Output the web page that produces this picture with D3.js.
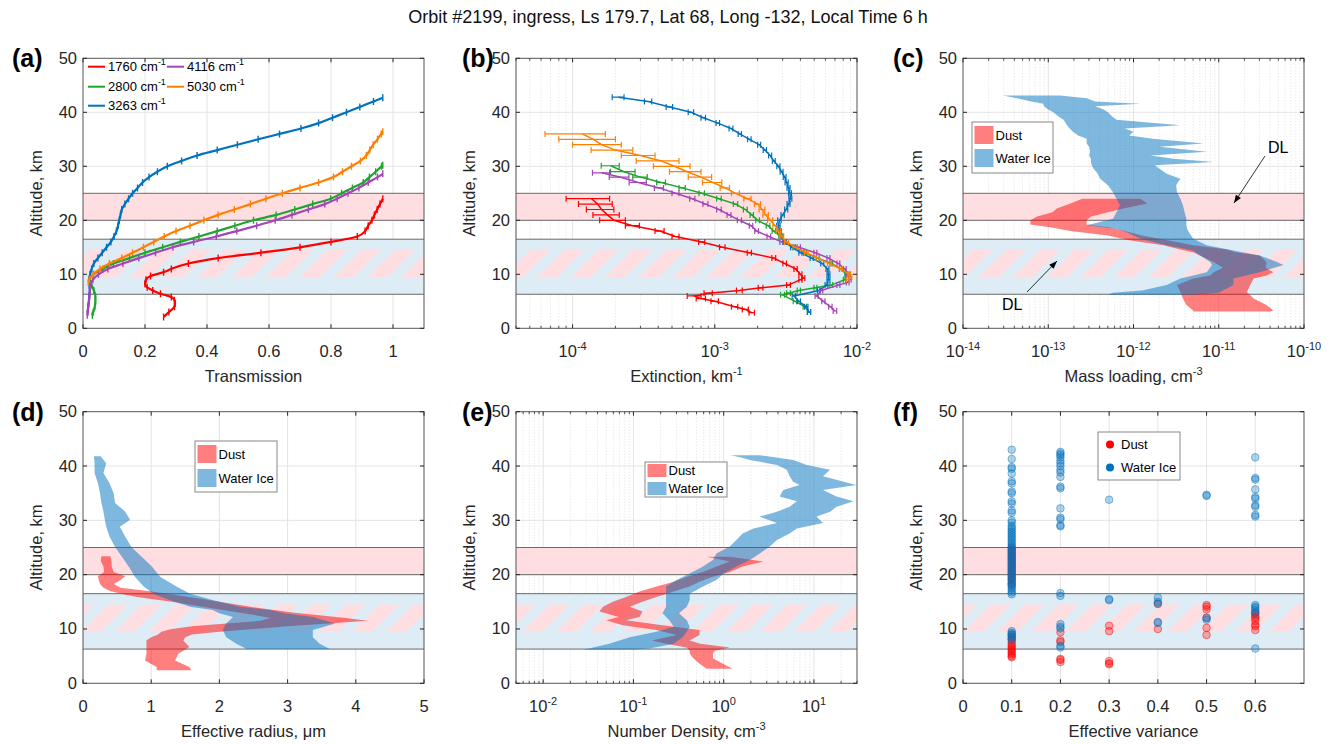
<!DOCTYPE html>
<html><head><meta charset="utf-8">
<script src="https://cdn.jsdelivr.net/npm/d3@7"></script>
<style>
body{margin:0;background:#fff;}
svg{font-family:"Liberation Sans",Arial,Helvetica,sans-serif;}
</style></head><body>
<svg id="chart" width="1335" height="744"></svg>
<script>
// ---------------- DATA ----------------
const title = "Orbit #2199, ingress, Ls 179.7, Lat 68, Long -132, Local Time 6 h";
const altTicks = [0,10,20,30,40,50];
const dustLayer = [20,25];
const iceLayer = [6.3,16.5];
const hatchLayer = [9.5,14.5];

// (a) Transmission
const a1760Alt = [2.1,3,4,4.6,5.2,5.8,6.4,7,7.6,8.2,9,9.7,10.4,11,12,13,14,15,16,17,18,19,20,21,22,23,24];
const a1760Tr  = [0.26,0.277,0.295,0.297,0.295,0.285,0.25,0.225,0.207,0.2,0.203,0.218,0.26,0.285,0.34,0.436,0.574,0.70,0.80,0.885,0.91,0.92,0.932,0.94,0.949,0.958,0.967];
const a2800Alt = [2.4,3,4,5,6,7,8,9,10,11,12,13,14,15,16,17,18,19,20,21,22,23,24,25,26,27,28,29,30,30.2];
const a2800Tr  = [0.03,0.033,0.038,0.04,0.04,0.035,0.028,0.022,0.034,0.064,0.098,0.15,0.2,0.257,0.314,0.374,0.433,0.49,0.55,0.623,0.683,0.741,0.799,0.834,0.869,0.904,0.924,0.944,0.963,0.967];
const a3263Alt = [3,4,5,6,7,8,9,10,11,12,13,14,15,16,17,18,19,20,21,22,23,24,25,26,27,28,29,30,31,32,33,34,35,36,37,38,39,40,41,42,42.7];
const a3263Tr  = [0.015,0.017,0.019,0.02,0.022,0.021,0.02,0.023,0.028,0.035,0.048,0.062,0.076,0.09,0.1,0.108,0.113,0.117,0.121,0.125,0.135,0.147,0.16,0.176,0.192,0.213,0.24,0.272,0.318,0.368,0.433,0.498,0.565,0.634,0.703,0.76,0.805,0.85,0.893,0.937,0.967];
const a4116Alt = [2.4,3,4,5,6,7,8,9,10,11,12,13,14,15,16,17,18,19,20,21,22,23,24,25,26,27,28,28.6];
const a4116Tr  = [0.014,0.015,0.017,0.019,0.021,0.022,0.023,0.032,0.05,0.08,0.129,0.18,0.234,0.29,0.357,0.43,0.496,0.56,0.62,0.674,0.727,0.78,0.82,0.855,0.89,0.92,0.95,0.967];
const a5030Alt = [8.5,9,10,11,12,13,14,15,16,17,18,19,20,21,22,23,24,25,26,27,28,29,30,31,32,33,34,35,36,36.4];
const a5030Tr  = [0.017,0.02,0.033,0.055,0.085,0.125,0.16,0.195,0.228,0.262,0.3,0.345,0.39,0.436,0.488,0.54,0.59,0.643,0.70,0.76,0.808,0.837,0.866,0.895,0.914,0.925,0.936,0.95,0.962,0.967];
const transTicks = [0,0.2,0.4,0.6,0.8,1];

// (b) Extinction, km^-1
const b1760Alt = [2.9,3.5,4,5,5.5,6,6.5,7,7.5,8,9,9.3,10,11,12,13,14,15,16,17,18,19,20,21,22,23,24];
const b1760Ext = [1.82e-3,1.64e-3,1.38e-3,1.0e-3,8.0e-4,7.2e-4,9e-4,1.49e-3,2.1e-3,3.3e-3,4.0e-3,4.2e-3,4.0e-3,3.7e-3,3.1e-3,2.6e-3,1.75e-3,1.13e-3,8.1e-4,5.3e-4,4.1e-4,2.65e-4,1.95e-4,1.76e-4,1.6e-4,1.5e-4,1.36e-4];
const b1760Err = [8e-5,8e-5,7e-5,6e-5,6e-5,8e-5,6e-5,7e-5,8e-5,1e-4,1e-4,1e-4,1e-4,1e-4,9e-5,8e-5,6e-5,5e-5,4e-5,3e-5,3e-5,3e-5,4e-5,3.7e-5,3.5e-5,4e-5,4.6e-5];
const b2800Alt = [3,4,5,6.2,6.5,7,7.5,8,9,10,11,12,13,14,15,16,17,18,19,20,21,22,23,24,25,26,27,28,29,30.1];
const b2800Ext = [4.6e-3,4.3e-3,3.66e-3,3.0e-3,3.3e-3,3.9e-3,5.1e-3,6.6e-3,8.2e-3,8.4e-3,7.7e-3,6.6e-3,5.3e-3,4.3e-3,3.6e-3,3.1e-3,2.9e-3,2.6e-3,2.37e-3,2.0e-3,1.82e-3,1.64e-3,1.4e-3,1.07e-3,8.1e-4,5.9e-4,4.2e-4,3e-4,2.3e-4,1.86e-4];
const b2800Err = [1.2e-4,1.2e-4,1e-4,1e-4,1e-4,1e-4,1.2e-4,1.5e-4,1.8e-4,1.8e-4,1.6e-4,1.4e-4,1.2e-4,1e-4,9e-5,8e-5,8e-5,7e-5,7e-5,6e-5,5e-5,5e-5,5e-5,4e-5,3.5e-5,3e-5,3e-5,3.5e-5,4.5e-5,2.7e-5];
const b3263Alt = [3,4,5,6,7,8,9,10,11,12,13,14,15,16,17,18,19,20,21,22,23,24,25,26,27,28,29,30,31,32,33,34,35,36,37,38,39,40,41,42,42.8];
const b3263Ext = [4.6e-3,4.4e-3,3.9e-3,3.6e-3,5.4e-3,6.1e-3,6.3e-3,6.3e-3,6.2e-3,5.7e-3,4.8e-3,4.0e-3,3.5e-3,3.1e-3,2.95e-3,2.85e-3,2.8e-3,2.85e-3,3.0e-3,3.18e-3,3.3e-3,3.4e-3,3.38e-3,3.3e-3,3.2e-3,3.1e-3,2.95e-3,2.8e-3,2.6e-3,2.45e-3,2.25e-3,2.05e-3,1.75e-3,1.5e-3,1.3e-3,1.05e-3,8.3e-4,6.8e-4,4.8e-4,3.4e-4,2.1e-4];
const b3263Err = [1.2e-4,1.2e-4,1e-4,1e-4,1.3e-4,1.4e-4,1.5e-4,1.5e-4,1.5e-4,1.4e-4,1.2e-4,1e-4,9e-5,8e-5,8e-5,8e-5,8e-5,8e-5,8e-5,8e-5,8e-5,8e-5,8e-5,8e-5,8e-5,7e-5,7e-5,7e-5,6e-5,6e-5,6e-5,5e-5,5e-5,4e-5,4e-5,3e-5,3e-5,3e-5,2.5e-5,2e-5,2e-5];
const b4116Alt = [3.2,4,5,6,7,8,8.5,9,10,11,12,13,14,15,16,17,18,19,20,21,22,23,24,25,26,27,28,28.8];
const b4116Ext = [7.0e-3,6.5e-3,5.8e-3,5.2e-3,5.6e-3,7.4e-3,8.6e-3,8.9e-3,8.6e-3,8.2e-3,7.4e-3,6.3e-3,5.1e-3,3.9e-3,2.95e-3,2.4e-3,1.97e-3,1.8e-3,1.49e-3,1.26e-3,1.07e-3,8.6e-4,6.95e-4,5.3e-4,4.06e-4,2.9e-4,2.15e-4,1.6e-4];
const b4116Err = [2e-4,1.8e-4,1.5e-4,1.3e-4,1.4e-4,1.8e-4,2e-4,2e-4,2e-4,1.9e-4,1.7e-4,1.5e-4,1.2e-4,1e-4,8e-5,7e-5,6e-5,5e-5,5e-5,4e-5,4e-5,3.5e-5,3e-5,3e-5,3e-5,4e-5,3.4e-5,2.2e-5];
const b5030Alt = [9,9.5,10,11,12,13,14,15,16,17,18,19,20,21,22,23,24,25,26,27,28,29,30,31,32,33,34,35,36];
const b5030Ext = [8.6e-3,9.0e-3,8.8e-3,7.7e-3,6.4e-3,5.3e-3,4.4e-3,3.68e-3,3.2e-3,2.95e-3,2.8e-3,2.66e-3,2.45e-3,2.28e-3,2.15e-3,2.0e-3,1.7e-3,1.4e-3,1.18e-3,9.7e-4,8e-4,6.4e-4,5.2e-4,4.2e-4,3e-4,2e-4,1.6e-4,1.4e-4,1.17e-4];
const b5030Err = [2e-4,2e-4,2e-4,2e-4,2e-4,1.5e-4,1.3e-4,1.2e-4,1e-4,1e-4,1e-4,1e-4,1e-4,1e-4,1e-4,1e-4,1e-4,9e-5,9e-5,1.5e-4,1.5e-4,1.6e-4,1.5e-4,1.4e-4,8e-5,6.5e-5,6e-5,6e-5,5.3e-5];
const extTicks = [1e-4,1e-3,1e-2];

// (c) Mass loading, cm^-3 : [altitude, lower, upper]
const cDustAlt = [24.0,23.1,22.2,21.5,20.7,20.0,19.2,18.7,18.0,17.2,16.3,15.4,14.6,14.1,13.5,12.3,11.2,10.4,9.8,9.2,8.0,6.7,5.5,4.3,3.3,3.1];
const cDustLo  = [2.51e-13,1.82e-13,1.26e-13,1.12e-13,7.41e-14,6.17e-14,6.17e-14,1.05e-13,1.82e-13,5.01e-13,8.91e-13,2.24e-12,3.55e-12,5.01e-12,6.03e-12,8.71e-12,1.12e-11,8.71e-12,7.94e-12,5.01e-12,3.24e-12,3.55e-12,3.8e-12,4.17e-12,5.01e-12,5.01e-12];
const cDustHi  = [1.2e-12,1.45e-12,7.59e-13,5.01e-13,3.16e-13,2.82e-13,2.82e-13,5.01e-13,7.94e-13,1.26e-12,2.51e-12,5.01e-12,1.26e-11,1.58e-11,3.02e-11,3.63e-11,3.55e-11,4.37e-11,3.63e-11,2.57e-11,2.34e-11,2.14e-11,2.57e-11,3.63e-11,4.37e-11,3.98e-11];
const cIceAlt = [43.1,42.6,42.0,41.6,41.1,40.5,40.0,39.2,38.6,37.6,37.0,36.4,35.7,35.1,34.2,33.6,32.7,32.0,31.4,30.8,30.2,29.6,28.6,27.7,26.5,25.2,24.0,22.8,21.5,20.3,19.1,18.4,17.8,16.6,15.4,14.4,13.5,12.3,11.7,10.4,9.2,8.0,7.0,6.6,6.2];
const cIceLo  = [2.95e-14,4.27e-14,6.31e-14,8.71e-14,8.91e-14,1.0e-13,1.15e-13,1.32e-13,1.51e-13,1.66e-13,1.78e-13,1.95e-13,2.24e-13,2.82e-13,2.82e-13,3.02e-13,3.09e-13,3.02e-13,3.16e-13,3.16e-13,3.24e-13,3.39e-13,3.8e-13,4.07e-13,5.01e-13,5.75e-13,6.31e-13,6.92e-13,6.31e-13,5.75e-13,2.82e-13,6.31e-13,8.32e-13,1.2e-12,2.45e-12,5.01e-12,6.03e-12,7.94e-12,8.32e-12,7.24e-12,3.55e-12,2.45e-12,1.26e-12,5.75e-13,5.01e-13];
const cIceHi  = [1.38e-13,2.82e-13,3.55e-13,1.2e-12,3.55e-13,4.47e-13,5.01e-13,5.62e-13,6.31e-13,3.55e-12,7.94e-13,1.0e-12,8.91e-13,1.7e-12,6.61e-12,2.0e-12,7.24e-12,1.58e-12,2.95e-12,8.71e-12,1.78e-12,2.0e-12,2.45e-12,3.55e-12,3.16e-12,3.24e-12,3.55e-12,3.8e-12,3.98e-12,4.17e-12,4.17e-12,4.27e-12,4.47e-12,5.01e-12,7.24e-12,1.48e-11,3.02e-11,4.79e-11,5.75e-11,3.02e-11,1.48e-11,1.48e-11,1.12e-11,1.0e-11,5.01e-12];
const massTicks = [1e-14,1e-13,1e-12,1e-11,1e-10];

// (d) Effective radius, um
const dDustAlt = [23.4,22.5,21.5,20.5,19.7,19.0,18.3,17.6,17.0,16.5,16.0,15.5,15.0,14.5,14.0,13.5,13.0,12.5,12.0,11.5,11.0,10.5,10.0,9.5,9.0,8.5,7.9,6.7,5.5,4.2,3.0,2.4];
const dDustLo  = [0.27,0.26,0.30,0.31,0.22,0.23,0.25,0.30,0.40,0.55,0.75,1.0,1.3,1.55,1.8,2.05,2.3,2.55,2.75,2.6,2.1,1.6,1.3,1.15,1.1,1.0,0.93,0.93,0.93,0.91,1.08,1.08];
const dDustHi  = [0.40,0.42,0.42,0.45,0.62,0.55,0.45,0.55,0.95,1.25,1.5,1.75,2.0,2.25,2.5,2.8,3.1,3.5,3.85,4.17,3.6,3.0,2.5,2.0,1.6,1.5,1.47,1.56,1.40,1.35,1.56,1.59];
const dIceAlt = [41.8,40.5,38.7,36.8,35.0,33.2,31.6,30.1,28.8,27.0,25.1,23.3,21.5,19.6,17.8,16.5,15.3,14.1,13.5,12.9,12.2,11.0,9.8,8.5,7.3,6.3];
const dIceLo  = [0.16,0.17,0.17,0.22,0.25,0.27,0.30,0.32,0.34,0.39,0.47,0.57,0.67,0.76,0.89,1.03,1.28,1.57,1.9,2.0,2.2,2.1,2.05,2.1,2.25,2.4];
const dIceHi  = [0.26,0.34,0.30,0.39,0.45,0.47,0.62,0.69,0.54,0.62,0.71,0.86,1.01,1.13,1.37,1.57,1.91,2.3,2.75,2.95,3.37,3.7,3.37,3.37,3.47,3.62];
const radiusTicks = [0,1,2,3,4,5];

// (e) Number density, cm^-3
const eDustAlt = [23.3,22.4,21.5,20.5,19.6,18.7,17.8,16.9,15.9,15.0,14.1,13.2,12.2,11.6,10.7,9.8,8.9,7.9,7.3,6.6,6.0,5.5,4.6,3.6,2.7];
const eDustLo  = [0.65,1.17,0.83,0.59,0.39,0.28,0.18,0.117,0.083,0.059,0.046,0.042,0.069,0.050,0.076,0.18,0.30,0.16,0.23,0.39,0.42,0.42,0.46,0.54,0.65];
const eDustHi  = [1.17,2.75,1.62,1.17,0.76,0.54,0.42,0.28,0.18,0.126,0.091,0.126,0.117,0.083,0.21,0.54,0.54,0.42,0.55,1.17,0.8,0.76,0.76,0.98,1.26];
const eIceAlt = [42.0,41.5,41.1,40.2,39.3,38.1,37.1,36.5,35.6,34.4,33.5,32.5,31.6,30.7,29.5,28.5,27.6,26.4,25.2,23.9,22.7,21.5,20.2,19.0,17.8,16.5,15.3,14.1,12.9,11.6,10.4,9.5,8.5,7.3,6.4,6.2];
const eIceLo  = [1.2,1.6,1.95,3.89,5.01,5.37,5.89,6.92,4.57,4.17,6.46,5.37,3.89,2.51,3.89,2.14,1.62,1.38,1.17,0.83,0.76,0.59,0.42,0.30,0.23,0.23,0.23,0.23,0.21,0.25,0.28,0.18,0.091,0.054,0.032,0.028];
const eIceHi  = [2.5,4.0,5.89,8.32,15.1,12.6,21.4,29.5,12.6,17.8,27.5,17.8,15.1,10.7,12.6,6.46,5.37,3.89,3.24,2.51,1.95,1.38,1.0,0.83,0.59,0.42,0.42,0.39,0.32,0.39,0.42,0.39,0.35,0.28,0.15,0.1];
const densTicks = [1e-2,1e-1,1e0,1e1];

// (f) Effective variance
const varClasses = [0.1,0.2,0.3,0.4,0.5,0.6];
const fDustAlts = [
  [25.0,24.6,24.2,23.8,23.4,23.0,22.6,22.2,21.8,21.4,21.0,20.6,20.2,19.8,19.4,19.0,18.4,18.1,9.0,8.5,8.0,7.5,7.1,6.8,6.5,6.2,5.9,5.6,5.3,5.0,4.8],
  [9.4,7.9,7.6,4.5,4.3,3.9],
  [10.6,9.6,4.1,3.7,3.5],
  [14.6,10.0],
  [14.4,14.1,13.6,12.1,10.2,8.9],
  [13.0,12.7,12.3,12.0,11.5,10.8,10.5,9.8]
];
const fIceAlts = [
  [43.0,41.3,39.8,39.5,38.6,37.2,36.8,35.3,35.0,33.5,33.1,31.8,31.4,30.0,29.6,29.0,28.65,28.3,27.95,27.6,27.25,26.9,26.55,26.2,25.85,25.5,25.15,24.8,24.45,24.1,23.75,23.4,23.05,22.7,22.35,22.0,21.65,21.3,20.95,20.6,20.25,19.9,19.55,19.2,18.85,18.5,18.15,17.8,17.45,17.1,16.75,16.4,9.6,9.3,9.0,8.7,8.3,8.0],
  [42.6,42.3,42.0,41.6,41.0,40.5,40.0,39.3,38.8,38.0,36.2,35.9,32.2,30.5,30.2,29.1,28.9,16.6,16.1,10.9,10.4,10.1,6.9,6.6],
  [33.8,15.5,15.3],
  [15.8,15.0,14.7,11.3,11.1],
  [34.7,34.5,12.0,11.7],
  [41.6,37.8,37.5,35.7,34.3,34.0,32.8,32.5,31.0,30.7,14.4,14.1,13.8,13.4,13.0,6.4]
];
const varTicks = [0,0.1,0.2,0.3,0.4,0.5,0.6];

// ---------------- STYLE ----------------
const colA = {"1760":"#ff0000","2800":"#1fa52e","3263":"#0072bd","4116":"#a446b8","5030":"#ff8000"};
const DUST = "#ff0000", ICE = "#0072bd";
const DUST_BAND = "rgb(255,222,226)", ICE_BAND = "rgb(222,236,246)";
const TXT = "#262626";
const FS = 16.5;

const cols = [[83,424],[516,857],[963,1304]];
const rows = [[58.3,328.3],[411.7,683.3]];
const svg = d3.select('#chart');
const defs = svg.append('defs');

svg.append('rect').attr('width',1335).attr('height',744).attr('fill','#fff');
svg.append('text').attr('x',668).attr('y',23).attr('text-anchor','middle')
  .attr('font-size',18).attr('fill','#111').text(title);

const pat = defs.append('pattern').attr('id','hatch').attr('patternUnits','userSpaceOnUse')
  .attr('width',24).attr('height',24).attr('patternTransform','rotate(45)');
pat.append('rect').attr('width',24).attr('height',24).attr('fill',ICE_BAND);
pat.append('rect').attr('width',14).attr('height',24).attr('fill',DUST_BAND);

function richText(sel, parts){
  parts.forEach(p=>{
    if (typeof p === 'string') sel.append('tspan').text(p);
    else sel.append('tspan').attr('dy',p.dy).attr('font-size',p.size).text(p.t);
  });
}

function makePanel(o){
  const [x0,x1]=cols[o.col], [yt,yb]=rows[o.row];
  const x=(o.log?d3.scaleLog():d3.scaleLinear()).domain(o.domain).range([x0,x1]);
  const y=d3.scaleLinear().domain([0,50]).range([yb,yt]);
  const cid='clip-'+o.id;
  defs.append('clipPath').attr('id',cid).append('rect')
    .attr('x',x0).attr('y',yt).attr('width',x1-x0).attr('height',yb-yt);
  const gGrid=svg.append('g'), gBand=svg.append('g').attr('clip-path',`url(#${cid})`);
  const gData=svg.append('g').attr('clip-path',`url(#${cid})`);
  const gFrame=svg.append('g');
  let majors=o.ticks, minors=[];
  if(o.log){
    minors=x.ticks().filter(v=>Math.abs(Math.log10(v)-Math.round(Math.log10(v)))>1e-6);
  }
  gGrid.selectAll('line.mn').data(minors).join('line').attr('class','mn')
    .attr('x1',d=>x(d)).attr('x2',d=>x(d)).attr('y1',yt).attr('y2',yb)
    .attr('stroke','#d9d9d9').attr('stroke-width',0.8).attr('stroke-dasharray','1,2');
  gGrid.selectAll('line.mj').data(majors.filter(v=>x(v)>x0+0.5&&x(v)<x1-0.5)).join('line').attr('class','mj')
    .attr('x1',d=>x(d)).attr('x2',d=>x(d)).attr('y1',yt).attr('y2',yb)
    .attr('stroke','#e4e4e4').attr('stroke-width',1);
  gGrid.selectAll('line.hy').data(altTicks.slice(1,-1)).join('line').attr('class','hy')
    .attr('x1',x0).attr('x2',x1).attr('y1',d=>y(d)).attr('y2',d=>y(d))
    .attr('stroke','#e4e4e4').attr('stroke-width',1);
  gBand.append('rect').attr('x',x0).attr('width',x1-x0).attr('y',y(dustLayer[1])).attr('height',y(dustLayer[0])-y(dustLayer[1])).attr('fill',DUST_BAND);
  gBand.append('rect').attr('x',x0).attr('width',x1-x0).attr('y',y(iceLayer[1])).attr('height',y(iceLayer[0])-y(iceLayer[1])).attr('fill',ICE_BAND);
  gBand.append('rect').attr('x',x0).attr('width',x1-x0).attr('y',y(hatchLayer[1])).attr('height',y(hatchLayer[0])-y(hatchLayer[1])).attr('fill','url(#hatch)');
  gBand.selectAll('line.bl').data([dustLayer[1],dustLayer[0],iceLayer[1],iceLayer[0]]).join('line').attr('class','bl')
    .attr('x1',x0).attr('x2',x1).attr('y1',d=>y(d)).attr('y2',d=>y(d))
    .attr('stroke','#6a6a6a').attr('stroke-width',1);
  gFrame.append('rect').attr('x',x0).attr('y',yt).attr('width',x1-x0).attr('height',yb-yt)
    .attr('fill','none').attr('stroke','#555').attr('stroke-width',1);
  const tl=4, tm=2.5;
  majors.forEach(v=>{
    const px=x(v);
    gFrame.append('line').attr('x1',px).attr('x2',px).attr('y1',yb).attr('y2',yb-tl).attr('stroke',TXT);
    gFrame.append('line').attr('x1',px).attr('x2',px).attr('y1',yt).attr('y2',yt+tl).attr('stroke',TXT);
  });
  minors.forEach(v=>{
    const px=x(v);
    gFrame.append('line').attr('x1',px).attr('x2',px).attr('y1',yb).attr('y2',yb-tm).attr('stroke',TXT).attr('stroke-width',0.8);
    gFrame.append('line').attr('x1',px).attr('x2',px).attr('y1',yt).attr('y2',yt+tm).attr('stroke',TXT).attr('stroke-width',0.8);
  });
  altTicks.forEach(v=>{
    const py=y(v);
    gFrame.append('line').attr('x1',x0).attr('x2',x0+tl).attr('y1',py).attr('y2',py).attr('stroke',TXT);
    gFrame.append('line').attr('x1',x1).attr('x2',x1-tl).attr('y1',py).attr('y2',py).attr('stroke',TXT);
    gFrame.append('text').attr('x',x0-6).attr('y',py+5.5).attr('text-anchor','end')
      .attr('font-size',FS).attr('fill',TXT).text(v);
  });
  const ly = yb+29;
  majors.forEach(v=>{
    const t=gFrame.append('text').attr('x',x(v)).attr('y',ly).attr('text-anchor','middle')
      .attr('font-size',FS).attr('fill',TXT);
    if(o.log){ richText(t,['10',{t:String(Math.round(Math.log10(v))),dy:-7,size:11}]); }
    else t.text(o.fmt(v));
  });
  const xl=gFrame.append('text').attr('x',(x0+x1)/2).attr('y',yb+54).attr('text-anchor','middle')
    .attr('font-size',FS).attr('fill',TXT);
  richText(xl,o.xlabel);
  gFrame.append('text').attr('transform',`translate(${x0-41},${(yt+yb)/2}) rotate(-90)`)
    .attr('text-anchor','middle').attr('font-size',FS).attr('fill',TXT).text('Altitude, km');
  gFrame.append('text').attr('x',o.lx).attr('y',o.row===0?67:421).attr('font-size',25)
    .attr('font-weight','bold').attr('fill','#000').text(o.tag);
  return {x,y,gData,gFrame};
}

const fmt1 = v=>String(+v.toFixed(2));
const sup = s=>({t:s,dy:-7,size:11});

// ---------- (a) ----------
const pa = makePanel({id:'a',col:0,row:0,domain:[0,1.1],ticks:transTicks,fmt:fmt1,xlabel:['Transmission'],tag:'(a)',lx:12});
const seriesA = [["1760",a1760Alt,a1760Tr],["2800",a2800Alt,a2800Tr],["3263",a3263Alt,a3263Tr],["4116",a4116Alt,a4116Tr],["5030",a5030Alt,a5030Tr]];
seriesA.forEach(([k,alt,tr])=>{
  const pts=alt.map((a,i)=>({a,v:tr[i]}));
  pa.gData.append('path').datum(pts).attr('fill','none').attr('stroke',colA[k]).attr('stroke-width',2.2)
    .attr('d',d3.line().x(d=>pa.x(d.v)).y(d=>pa.y(d.a)).curve(d3.curveMonotoneY));
  pa.gData.selectAll(null).data(pts).join('line')
    .attr('x1',d=>pa.x(d.v)).attr('x2',d=>pa.x(d.v)).attr('y1',d=>pa.y(d.a)-3.5).attr('y2',d=>pa.y(d.a)+3.5)
    .attr('stroke',colA[k]).attr('stroke-width',1.4);
});
const legA = [["1760",88,66.7],["2800",88,86.7],["3263",88,105.7],["4116",167,66.7],["5030",167,86.7]];
legA.forEach(([k,lx,ly])=>{
  pa.gFrame.append('line').attr('x1',lx).attr('x2',lx+17).attr('y1',ly).attr('y2',ly).attr('stroke',colA[k]).attr('stroke-width',2);
  const t=pa.gFrame.append('text').attr('x',lx+20).attr('y',ly+4.5).attr('font-size',13).attr('fill','#000');
  richText(t,[k+' cm',{t:'-1',dy:-6,size:9}]);
});

// ---------- (b) ----------
const pb = makePanel({id:'b',col:1,row:0,log:true,domain:[4e-5,1e-2],ticks:extTicks,xlabel:['Extinction, km',sup('-1')],tag:'(b)',lx:462});
const seriesB = [["1760",b1760Alt,b1760Ext,b1760Err],["2800",b2800Alt,b2800Ext,b2800Err],["3263",b3263Alt,b3263Ext,b3263Err],["4116",b4116Alt,b4116Ext,b4116Err],["5030",b5030Alt,b5030Ext,b5030Err]];
seriesB.forEach(([k,alt,ext,err])=>{
  const pts=alt.map((a,i)=>({a,v:ext[i],e:err[i]}));
  const c=colA[k];
  pb.gData.append('path').datum(pts).attr('fill','none').attr('stroke',c).attr('stroke-width',1.5)
    .attr('d',d3.line().x(d=>pb.x(d.v)).y(d=>pb.y(d.a)));
  const g=pb.gData.append('g').attr('stroke',c).attr('stroke-width',1.2);
  g.selectAll('line.eb').data(pts).join('line').attr('class','eb')
    .attr('x1',d=>pb.x(d.v-d.e)).attr('x2',d=>pb.x(d.v+d.e)).attr('y1',d=>pb.y(d.a)).attr('y2',d=>pb.y(d.a));
  g.selectAll('line.c1').data(pts).join('line').attr('class','c1')
    .attr('x1',d=>pb.x(d.v-d.e)).attr('x2',d=>pb.x(d.v-d.e)).attr('y1',d=>pb.y(d.a)-3).attr('y2',d=>pb.y(d.a)+3);
  g.selectAll('line.c2').data(pts).join('line').attr('class','c2')
    .attr('x1',d=>pb.x(d.v+d.e)).attr('x2',d=>pb.x(d.v+d.e)).attr('y1',d=>pb.y(d.a)-3).attr('y2',d=>pb.y(d.a)+3);
});

function band(p, alt, lo, hi, color){
  const pts=alt.map((a,i)=>({a,lo:lo[i],hi:hi[i]}));
  p.gData.append('path').datum(pts).attr('fill',color).attr('fill-opacity',0.5).attr('stroke','none')
    .attr('d',d3.area().y(d=>p.y(d.a)).x0(d=>p.x(d.lo)).x1(d=>p.x(d.hi)));
}
function areaLegend(p,bx,by,bw,bh,rowsY,sw,fs){
  p.gFrame.append('rect').attr('x',bx).attr('y',by).attr('width',bw).attr('height',bh)
    .attr('fill','#fff').attr('stroke','#888').attr('stroke-width',1);
  [["Dust",DUST],["Water Ice",ICE]].forEach(([n,c],i)=>{
    p.gFrame.append('rect').attr('x',bx+2.5).attr('y',rowsY[i]-sw.h/2).attr('width',sw.w).attr('height',sw.h)
      .attr('fill',c).attr('fill-opacity',0.5);
    p.gFrame.append('text').attr('x',bx+sw.w+4.5).attr('y',rowsY[i]+4.5).attr('font-size',fs).attr('fill','#000').text(n);
  });
}
function arrow(p,x1,y1,x2,y2){
  p.gFrame.append('line').attr('x1',x1).attr('y1',y1).attr('x2',x2).attr('y2',y2).attr('stroke','#000').attr('stroke-width',0.8);
  const ang=Math.atan2(y2-y1,x2-x1), L=8, w=3;
  const bx=x2-L*Math.cos(ang), by=y2-L*Math.sin(ang);
  const nx=-Math.sin(ang)*w, ny=Math.cos(ang)*w;
  p.gFrame.append('path').attr('d',`M${x2},${y2}L${bx+nx},${by+ny}L${bx-nx},${by-ny}Z`).attr('fill','#000');
}

// ---------- (c) ----------
const pc = makePanel({id:'c',col:2,row:0,log:true,domain:[1e-14,1e-10],ticks:massTicks,xlabel:['Mass loading, cm',sup('-3')],tag:'(c)',lx:893});
band(pc,cDustAlt,cDustLo,cDustHi,DUST);
band(pc,cIceAlt,cIceLo,cIceHi,ICE);
areaLegend(pc,972,122,81,51,[135,158],{w:19,h:18},13);
pc.gFrame.append('text').attr('x',1268).attr('y',153).attr('font-size',16).attr('fill','#000').text('DL');
arrow(pc,1265,156,1234,203);
pc.gFrame.append('text').attr('x',1002).attr('y',310).attr('font-size',16).attr('fill','#000').text('DL');
arrow(pc,1027,292,1057,261);

// ---------- (d) ----------
const pd = makePanel({id:'d',col:0,row:1,domain:[0,5],ticks:radiusTicks,fmt:fmt1,xlabel:['Effective radius, μm'],tag:'(d)',lx:12});
band(pd,dDustAlt,dDustLo,dDustHi,DUST);
band(pd,dIceAlt,dIceLo,dIceHi,ICE);
areaLegend(pd,195,441,82,51,[454,478],{w:19,h:18},13);

// ---------- (e) ----------
const pe = makePanel({id:'e',col:1,row:1,log:true,domain:[5e-3,30],ticks:densTicks,xlabel:['Number Density, cm',sup('-3')],tag:'(e)',lx:462});
band(pe,eDustAlt,eDustLo,eDustHi,DUST);
band(pe,eIceAlt,eIceLo,eIceHi,ICE);
areaLegend(pe,645,462,82,35,[470.5,488.5],{w:19,h:13},13);

// ---------- (f) ----------
const pf = makePanel({id:'f',col:2,row:1,domain:[0,0.7],ticks:varTicks,fmt:fmt1,xlabel:['Effective variance'],tag:'(f)',lx:893});
function dots(p, alts, color){
  const pts=[]; alts.forEach((arr,i)=>arr.forEach(a=>pts.push({v:varClasses[i],a})));
  p.gData.append('g').selectAll('circle').data(pts).join('circle')
    .attr('cx',d=>p.x(d.v)).attr('cy',d=>p.y(d.a)).attr('r',3.8)
    .attr('fill',color).attr('fill-opacity',0.3).attr('stroke',color).attr('stroke-opacity',0.45).attr('stroke-width',1);
}
dots(pf,fDustAlts,DUST);
dots(pf,fIceAlts,ICE);
pf.gFrame.append('rect').attr('x',1098).attr('y',432).attr('width',82).attr('height',48).attr('fill','#fff').attr('stroke','#888');
[["Dust",DUST,444.5],["Water Ice",ICE,467.5]].forEach(([n,c,yy])=>{
  pf.gFrame.append('circle').attr('cx',1110).attr('cy',yy).attr('r',4).attr('fill',c);
  pf.gFrame.append('text').attr('x',1121).attr('y',yy+4.5).attr('font-size',13).attr('fill','#000').text(n);
});
</script>
</body></html>
